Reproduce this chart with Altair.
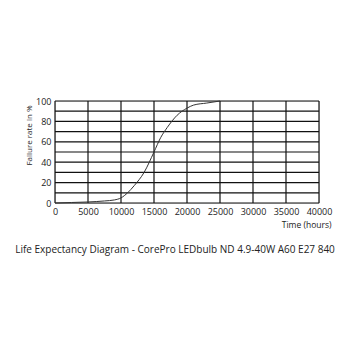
import altair as alt
import pandas as pd

hours = [0, 2500, 5000, 7500, 9000, 10000, 11000, 12000, 13500, 15000, 16000, 17000, 18500, 20000, 21000, 23000, 25000]
failure = [0, 0.5, 1, 2, 3, 5, 10, 17, 30, 50, 64, 74, 86, 93, 96, 98, 100]

x_ticks = list(range(0, 40001, 5000))
y_grid = list(range(0, 101, 10))
y_labels = [0, 20, 40, 60, 80, 100]

df = pd.DataFrame({"hours": hours, "failure": failure})
vg = pd.DataFrame({"x": x_ticks})
hg = pd.DataFrame({"y": y_grid})

FONT = "Open Sans"
xs = alt.Scale(domain=[0, 40000], nice=False)
ys = alt.Scale(domain=[0, 100], nice=False)

xaxis = alt.Axis(values=x_ticks, format="d", title="Time (hours)",
                 ticks=False, domain=False, grid=False, labelPadding=4,
                 labelOverlap=False, labelFlush=False,
                 labelFontSize=9, labelColor="#222", labelFont=FONT,
                 titleFont=FONT, titleFontSize=8.5, titleFontWeight="normal",
                 titleColor="#222", titleAnchor="end", titleAlign="right",
                 titleBaseline="middle", titleX=276, titleY=21)
yaxis = alt.Axis(values=y_labels, title="Failure rate in %",
                 ticks=False, domain=False, grid=False, labelPadding=4,
                 labelOverlap=False, labelFlush=False,
                 labelFontSize=9, labelColor="#222", labelFont=FONT,
                 titleFont=FONT, titleFontSize=8, titleFontWeight="normal",
                 titleColor="#222", titleAngle=270, titleAlign="center",
                 titleBaseline="middle", titleX=-26, titleY=34)

vlines = alt.Chart(vg).mark_rule(color="#111", strokeWidth=1.2).encode(
    x=alt.X("x:Q", scale=xs, axis=xaxis)
)
hlines = alt.Chart(hg).mark_rule(color="#111", strokeWidth=1.2).encode(
    y=alt.Y("y:Q", scale=ys, axis=yaxis)
)
curve = alt.Chart(df).mark_line(color="#333", strokeWidth=1, interpolate="monotone").encode(
    x=alt.X("hours:Q", scale=xs, axis=xaxis),
    y=alt.Y("failure:Q", scale=ys, axis=yaxis),
)

chart = alt.layer(hlines, vlines, curve).properties(
    width=264, height=102,
    autosize=alt.AutoSizeParams(type="none"),
    padding={"left": 55, "top": 101, "right": 31, "bottom": 147},
    title=alt.TitleParams(
        "Life Expectancy Diagram - CorePro LEDbulb ND 4.9-40W A60 E27 840",
        orient="bottom", anchor="middle", font=FONT, fontSize=10,
        fontWeight="normal", color="#222", offset=16, dx=-12),
).configure_view(stroke="#888", strokeWidth=1).configure(background="white")

chart.save("out.html", embed_options={"renderer": "svg", "actions": False})
